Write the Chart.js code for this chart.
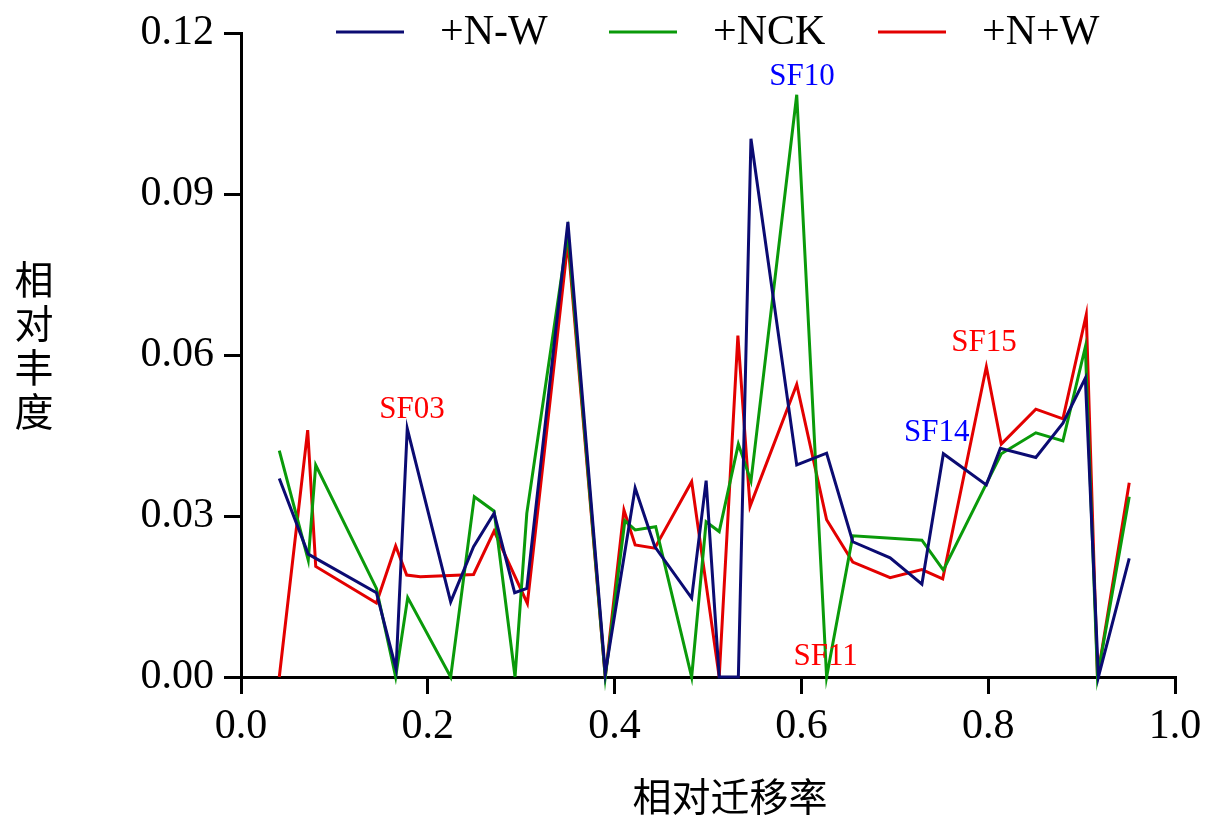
<!DOCTYPE html>
<html lang="zh-CN">
<head>
  <meta charset="UTF-8">
  <title>相对丰度</title>
  <script src="https://cdn.jsdelivr.net/npm/chart.js"></script>
  <style>
    html, body { margin: 0; padding: 0; background: #fff; }
    #wrap { width: 1205px; height: 819px; }
  </style>
</head>
<body>
  <div id="wrap"><canvas id="chart" width="1205" height="819"></canvas></div>
  <script>
    // series names
    const seriesNames = ['+N-W', '+NCK', '+N+W'];

    // +N-W
    const nwX = [0.041, 0.072, 0.145, 0.166, 0.178, 0.2245, 0.249, 0.271, 0.293, 0.306, 0.350, 0.390, 0.422, 0.443, 0.4825, 0.498, 0.512, 0.5325, 0.546, 0.595, 0.627, 0.655, 0.695, 0.729, 0.752, 0.798, 0.813, 0.851, 0.880, 0.904, 0.918, 0.951];
    const nwY = [0.0370, 0.0229, 0.0157, 0.0015, 0.0463, 0.0140, 0.0243, 0.0305, 0.0157, 0.0165, 0.0848, 0.0007, 0.0352, 0.0243, 0.0147, 0.0366, 0, 0, 0.1003, 0.0395, 0.0417, 0.0252, 0.0222, 0.0173, 0.0416, 0.0358, 0.0426, 0.0409, 0.0473, 0.0557, 0, 0.0221];

    // +NCK
    const nckX = [0.041, 0.072, 0.080, 0.145, 0.1656, 0.1785, 0.2245, 0.2498, 0.271, 0.2934, 0.306, 0.350, 0.390, 0.411, 0.422, 0.444, 0.4825, 0.498, 0.512, 0.5325, 0.546, 0.595, 0.627, 0.655, 0.729, 0.752, 0.814, 0.851, 0.880, 0.904, 0.917, 0.951];
    const nckY = [0.0422, 0.0218, 0.0395, 0.0165, 0, 0.0148, 0, 0.0336, 0.0309, 0, 0.0305, 0.0827, 0, 0.0291, 0.0274, 0.0280, 0, 0.0289, 0.0271, 0.0434, 0.0365, 0.1085, 0, 0.0263, 0.0255, 0.0199, 0.0416, 0.0455, 0.0440, 0.0615, 0, 0.0336];

    // +N+W
    const npwX = [0.041, 0.0714, 0.080, 0.145, 0.1656, 0.1774, 0.192, 0.249, 0.271, 0.3066, 0.350, 0.390, 0.410, 0.422, 0.443, 0.4825, 0.512, 0.532, 0.545, 0.595, 0.627, 0.655, 0.695, 0.729, 0.7513, 0.798, 0.814, 0.851, 0.880, 0.905, 0.917, 0.951];
    const npwY = [0, 0.046, 0.0206, 0.0138, 0.0244, 0.019, 0.0187, 0.0191, 0.0272, 0.0137, 0.0811, 0, 0.0311, 0.0246, 0.024, 0.0364, 0, 0.0636, 0.0318, 0.0545, 0.0293, 0.0214, 0.0185, 0.0200, 0.0183, 0.0578, 0.0434, 0.0499, 0.0481, 0.0675, 0, 0.0362];

    // band labels: text, x, y
    const bandText = ['SF03', 'SF10', 'SF11', 'SF14', 'SF15'];
    const bandX = [0.183, 0.6006, 0.626, 0.745, 0.7955];
    const bandY = [0.0497, 0.1118, 0.0037, 0.0455, 0.0622];
    const bandColor = ['#ff0000', '#0000ff', '#ff0000', '#0000ff', '#ff0000'];

    const xTitle = '相对迁移率';
    const yTitle = '相对丰度';

    const colors = ['#0b0b72', '#0a9a0a', '#e30000'];
    const serif = '"Liberation Serif", "Times New Roman", "Noto Sans CJK SC", serif';
    const cjk = '"Noto Sans CJK SC", "Liberation Serif", sans-serif';

    const toPoints = (xs, ys) => xs.map((x, i) => ({ x: x, y: ys[i] }));

    const extras = {
      id: 'extras',
      afterDatasetsDraw(chart) {
        const ctx = chart.ctx;
        const xs = chart.scales.x, ys = chart.scales.y;
        ctx.save();
        // band labels
        ctx.font = '31px ' + serif;
        ctx.textAlign = 'center';
        ctx.textBaseline = 'middle';
        bandText.forEach((t, i) => {
          ctx.fillStyle = bandColor[i];
          ctx.fillText(t, xs.getPixelForValue(bandX[i]), ys.getPixelForValue(bandY[i]));
        });
        // legend
        const lx = [336, 609, 878];
        ctx.font = '42px ' + serif;
        ctx.textAlign = 'left';
        seriesNames.forEach((n, i) => {
          ctx.strokeStyle = colors[i];
          ctx.lineWidth = 3;
          ctx.beginPath();
          ctx.moveTo(lx[i], 32);
          ctx.lineTo(lx[i] + 68, 32);
          ctx.stroke();
          ctx.fillStyle = '#000';
          ctx.fillText(n, lx[i] + 104, 33);
        });
        // axis titles
        ctx.font = '39px ' + cjk;
        ctx.textAlign = 'center';
        ctx.fillText(xTitle, 730, 796);
        Array.from(yTitle).forEach((c, i) => {
          ctx.fillText(c, 34, 279 + i * 44);
        });
        ctx.restore();
      }
    };

    const ds = (label, data, color) => ({
      label: label,
      data: data,
      borderColor: color,
      backgroundColor: color,
      borderWidth: 3,
      pointRadius: 0,
      tension: 0,
      clip: false
    });

    new Chart(document.getElementById('chart'), {
      type: 'line',
      data: {
        datasets: [
          ds(seriesNames[0], toPoints(nwX, nwY), colors[0]),
          ds(seriesNames[1], toPoints(nckX, nckY), colors[1]),
          ds(seriesNames[2], toPoints(npwX, npwY), colors[2])
        ]
      },
      options: {
        responsive: false,
        animation: false,
        layout: { padding: { left: 0, top: 33, right: 30, bottom: 0 } },
        plugins: { legend: { display: false }, tooltip: { enabled: false } },
        scales: {
          x: {
            type: 'linear',
            min: 0, max: 1,
            afterFit: s => { s.height = 142; s.paddingLeft = 0; s.paddingRight = 0; },
            afterBuildTicks: s => { s.ticks = [0, 0.2, 0.4, 0.6, 0.8, 1.0].map(v => ({ value: v })); },
            ticks: {
              color: '#000',
              font: { family: serif, size: 42 },
              padding: 8,
              maxRotation: 0,
              callback: v => v.toFixed(1)
            },
            grid: { drawOnChartArea: false, drawTicks: true, tickLength: 17, color: '#000', lineWidth: 3 },
            border: { display: true, color: '#000', width: 3 }
          },
          y: {
            min: 0, max: 0.12,
            afterFit: s => { s.width = 241; s.paddingTop = 0; s.paddingBottom = 0; },
            afterBuildTicks: s => { s.ticks = [0, 0.03, 0.06, 0.09, 0.12].map(v => ({ value: v })); },
            ticks: {
              color: '#000',
              font: { family: serif, size: 42 },
              padding: 10,
              callback: v => v.toFixed(2)
            },
            grid: { drawOnChartArea: false, drawTicks: true, tickLength: 17, color: '#000', lineWidth: 3 },
            border: { display: true, color: '#000', width: 3 }
          }
        }
      },
      plugins: [extras]
    });
  </script>
</body>
</html>
